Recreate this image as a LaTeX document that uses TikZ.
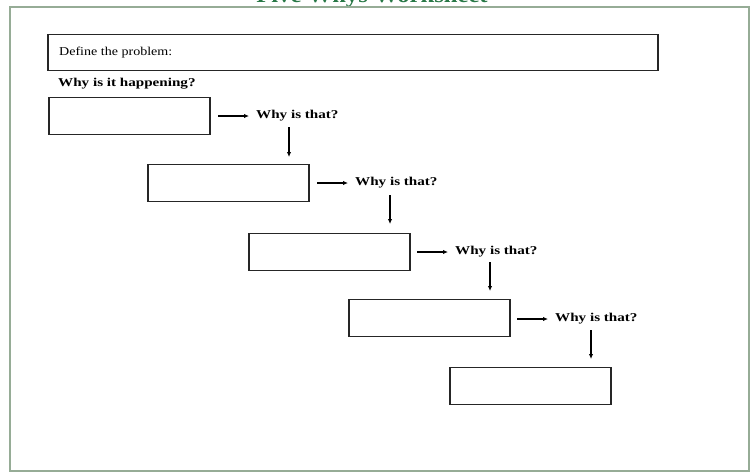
\documentclass[tikz,border=0pt]{standalone}
\usepackage{fontspec}
\setmainfont{Liberation Serif}
\newfontfamily\widefont[FakeStretch=1.26]{Liberation Serif}
\newfontfamily\widerfont[FakeStretch=1.17]{Liberation Serif}
\newfontfamily\titlefont[FakeStretch=1.12]{Liberation Serif}
\usetikzlibrary{arrows.meta}
\definecolor{framec}{RGB}{150,172,150}
\definecolor{titlec}{RGB}{40,120,70}
\begin{document}
\begin{tikzpicture}[x=1pt,y=-1pt,
  answer/.style={draw=black!85,line width=1.3pt,minimum width=161pt,minimum height=37pt,inner sep=0pt},
  why/.style={font=\widefont\bfseries\fontsize{12}{14}\selectfont,anchor=west,inner sep=0pt},
  arr/.style={-{Latex[length=5pt,width=4.5pt]},line width=1.1pt}]
\useasboundingbox (0,0) rectangle (752,474);
\fill[white] (0,0) rectangle (752,474);
\begin{scope}
\clip (0,0) rectangle (752,474);
\node[font=\titlefont\bfseries\fontsize{22}{24}\selectfont,text=titlec,anchor=base,inner sep=0pt] (title) at (372,2) {Five Whys Worksheet};
\end{scope}
\draw[framec,line width=2pt] (10,7) rectangle (749,471);
\node[draw=black!85,line width=1.3pt,minimum width=610pt,minimum height=36pt,inner sep=0pt] (def) at (353,52.5) {};
\node[font=\widerfont\fontsize{12}{14}\selectfont,anchor=west,inner sep=0pt] (deft) at (59,53) {Define the problem:};
\node[font=\widefont\bfseries\fontsize{12}{14}\selectfont,anchor=west,inner sep=0pt] (happ) at (58,84) {Why is it happening?};
\node[answer] (b1) at (129.5,116) {};
\node[answer] (b2) at (228.5,183) {};
\node[answer] (b3) at (329.5,252) {};
\node[answer] (b4) at (429.5,318) {};
\node[answer] (b5) at (530.5,386) {};
\node[why] (w1) at (256,116) {Why is that?};
\node[why] (w2) at (355,183) {Why is that?};
\node[why] (w3) at (455,252) {Why is that?};
\node[why] (w4) at (555,319) {Why is that?};
\coordinate (a1) at (218,116); \coordinate (a2) at (317,183);
\coordinate (a3) at (417,252); \coordinate (a4) at (517,319);
\draw[arr] (a1) -- (249,116);
\draw[arr] (a2) -- (348,183);
\draw[arr] (a3) -- (448,252);
\draw[arr] (a4) -- (548,319);
\draw[arr] (289,127) -- (289,157);
\draw[arr] (390,195) -- (390,224);
\draw[arr] (490,262) -- (490,291);
\draw[arr] (591,330) -- (591,359);
\end{tikzpicture}
\end{document}
